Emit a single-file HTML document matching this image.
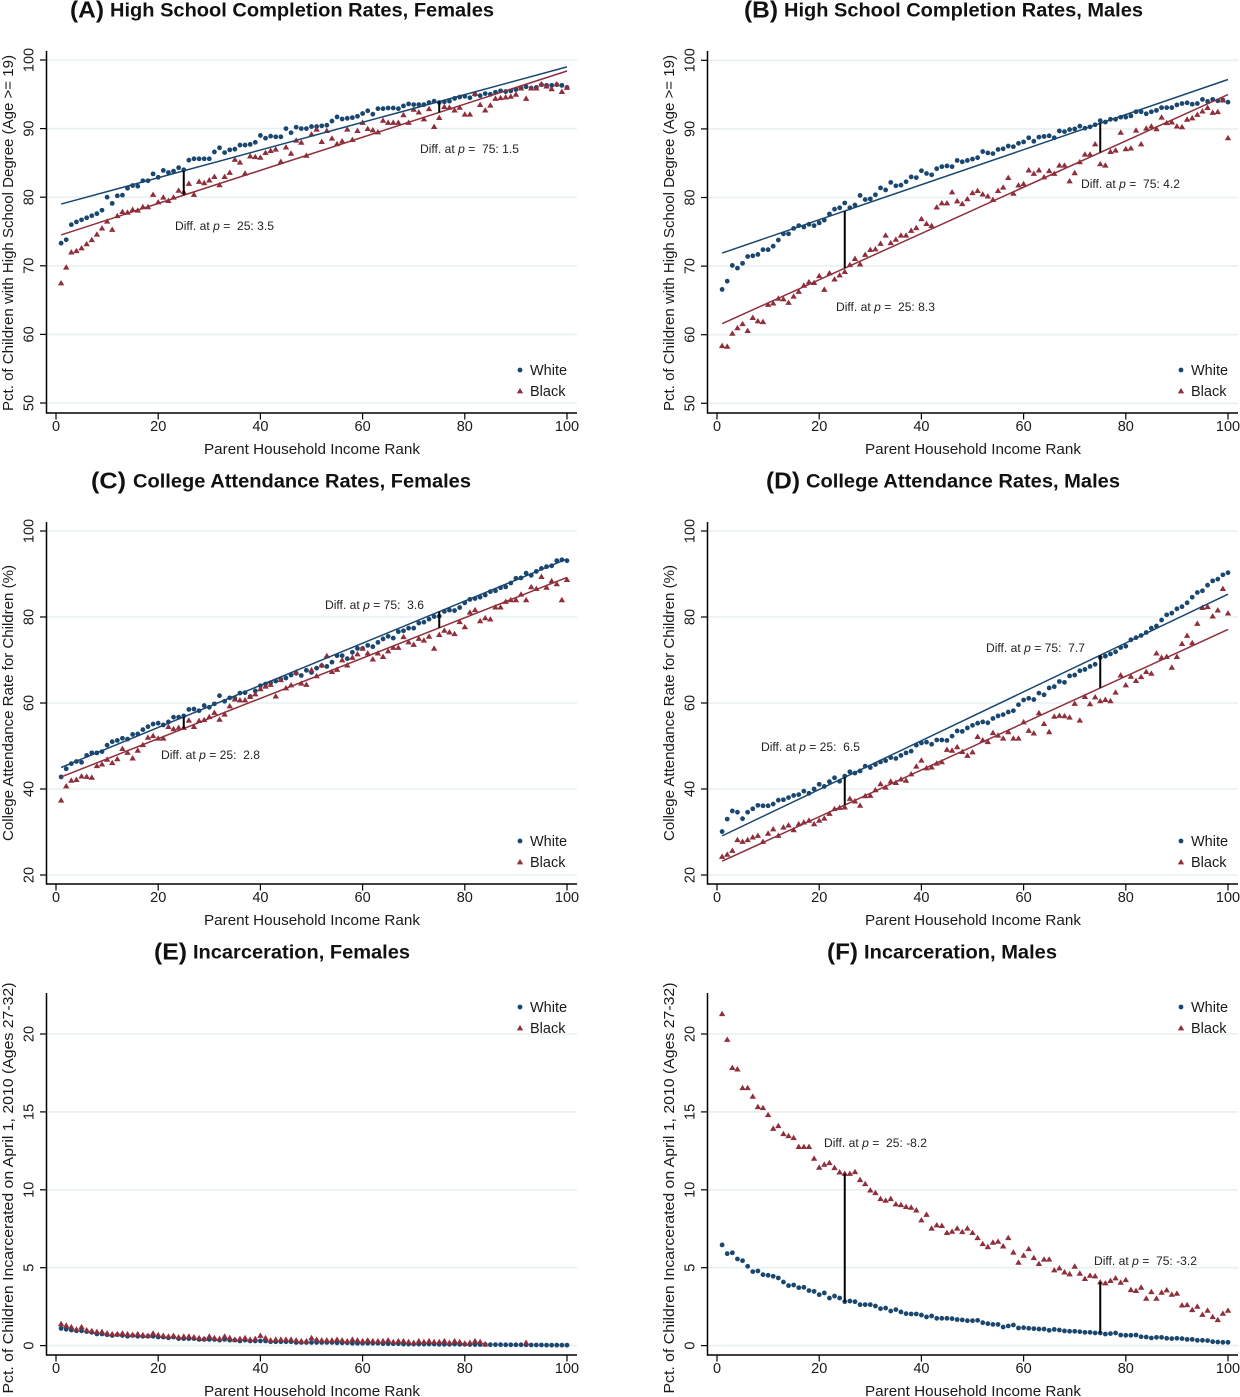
<!DOCTYPE html>
<html lang="en">
<head>
<meta charset="utf-8">
<title>Outcomes by Parent Income Rank</title>
<style>
html,body{margin:0;padding:0;background:#fff;width:1240px;height:1397px;overflow:hidden}
svg{display:block}
text{font-family:"Liberation Sans",Arial,sans-serif;fill:#1a1a1a}
.title{font-weight:bold;font-size:19.5px;fill:#111}
.title-tag{font-weight:bold;font-size:23px;fill:#111}
.axis-title{font-size:14.5px}
.tick{font-size:14.5px}
.legend{font-size:14.5px}
.note{font-size:12.1px;fill:#222}
.note tspan{font-style:italic}
</style>
</head>
<body>
<svg id="chart" xmlns="http://www.w3.org/2000/svg" width="1240" height="1397" viewBox="0 0 1240 1397">
  <rect width="1240" height="1397" fill="#ffffff"/>

  <g id="panel-a">
    <g class="marks"></g>
    <text class="title-tag" x="70" y="17.7" textLength="34" lengthAdjust="spacingAndGlyphs">(A)</text>
    <text class="title" x="110" y="16.7" textLength="384" lengthAdjust="spacingAndGlyphs">High School Completion Rates, Females</text>
    <text class="axis-title" transform="translate(13,233) rotate(-90)" text-anchor="middle" textLength="356" lengthAdjust="spacingAndGlyphs">Pct. of Children with High School Degree (Age &gt;= 19)</text>
    <text class="axis-title" x="312" y="454" text-anchor="middle" textLength="216" lengthAdjust="spacingAndGlyphs">Parent Household Income Rank</text>
    <text class="note" x="175" y="230">Diff. at <tspan>p</tspan> =&#160; 25: 3.5</text>
    <text class="note" x="420" y="153">Diff. at <tspan>p</tspan> =&#160; 75: 1.5</text>
    <text class="legend" x="530" y="375">White</text>
    <text class="legend" x="530" y="396">Black</text>
  </g>

  <g id="panel-b">
    <g class="marks"></g>
    <text class="title-tag" x="744" y="17.7" textLength="34" lengthAdjust="spacingAndGlyphs">(B)</text>
    <text class="title" x="784" y="16.7" textLength="359" lengthAdjust="spacingAndGlyphs">High School Completion Rates, Males</text>
    <text class="axis-title" transform="translate(674,233) rotate(-90)" text-anchor="middle" textLength="356" lengthAdjust="spacingAndGlyphs">Pct. of Children with High School Degree (Age &gt;= 19)</text>
    <text class="axis-title" x="973" y="454" text-anchor="middle" textLength="216" lengthAdjust="spacingAndGlyphs">Parent Household Income Rank</text>
    <text class="note" x="836" y="311">Diff. at <tspan>p</tspan> =&#160; 25: 8.3</text>
    <text class="note" x="1081" y="188">Diff. at <tspan>p</tspan> =&#160; 75: 4.2</text>
    <text class="legend" x="1191" y="375">White</text>
    <text class="legend" x="1191" y="396">Black</text>
  </g>

  <g id="panel-c">
    <g class="marks"></g>
    <text class="title-tag" x="91" y="488.7" textLength="35" lengthAdjust="spacingAndGlyphs">(C)</text>
    <text class="title" x="133" y="487.7" textLength="338" lengthAdjust="spacingAndGlyphs">College Attendance Rates, Females</text>
    <text class="axis-title" transform="translate(13,703) rotate(-90)" text-anchor="middle" textLength="276" lengthAdjust="spacingAndGlyphs">College Attendance Rate for Children (%)</text>
    <text class="axis-title" x="312" y="925" text-anchor="middle" textLength="216" lengthAdjust="spacingAndGlyphs">Parent Household Income Rank</text>
    <text class="note" x="161" y="759">Diff. at <tspan>p</tspan> = 25:&#160; 2.8</text>
    <text class="note" x="325" y="609">Diff. at <tspan>p</tspan> = 75:&#160; 3.6</text>
    <text class="legend" x="530" y="846">White</text>
    <text class="legend" x="530" y="867">Black</text>
  </g>

  <g id="panel-d">
    <g class="marks"></g>
    <text class="title-tag" x="766" y="488.7" textLength="34" lengthAdjust="spacingAndGlyphs">(D)</text>
    <text class="title" x="806" y="487.7" textLength="314" lengthAdjust="spacingAndGlyphs">College Attendance Rates, Males</text>
    <text class="axis-title" transform="translate(674,703) rotate(-90)" text-anchor="middle" textLength="276" lengthAdjust="spacingAndGlyphs">College Attendance Rate for Children (%)</text>
    <text class="axis-title" x="973" y="925" text-anchor="middle" textLength="216" lengthAdjust="spacingAndGlyphs">Parent Household Income Rank</text>
    <text class="note" x="761" y="751">Diff. at <tspan>p</tspan> = 25:&#160; 6.5</text>
    <text class="note" x="986" y="652">Diff. at <tspan>p</tspan> = 75:&#160; 7.7</text>
    <text class="legend" x="1191" y="846">White</text>
    <text class="legend" x="1191" y="867">Black</text>
  </g>

  <g id="panel-e">
    <g class="marks"></g>
    <text class="title-tag" x="154" y="959.7" textLength="33" lengthAdjust="spacingAndGlyphs">(E)</text>
    <text class="title" x="193" y="958.7" textLength="217" lengthAdjust="spacingAndGlyphs">Incarceration, Females</text>
    <text class="axis-title" transform="translate(13,1188) rotate(-90)" text-anchor="middle" textLength="411" lengthAdjust="spacingAndGlyphs">Pct. of Children Incarcerated on April 1, 2010 (Ages 27-32)</text>
    <text class="axis-title" x="312" y="1396" text-anchor="middle" textLength="216" lengthAdjust="spacingAndGlyphs">Parent Household Income Rank</text>
    <text class="legend" x="530" y="1012">White</text>
    <text class="legend" x="530" y="1033">Black</text>
  </g>

  <g id="panel-f">
    <g class="marks"></g>
    <text class="title-tag" x="827" y="959.7" textLength="31" lengthAdjust="spacingAndGlyphs">(F)</text>
    <text class="title" x="864" y="958.7" textLength="193" lengthAdjust="spacingAndGlyphs">Incarceration, Males</text>
    <text class="axis-title" transform="translate(674,1188) rotate(-90)" text-anchor="middle" textLength="411" lengthAdjust="spacingAndGlyphs">Pct. of Children Incarcerated on April 1, 2010 (Ages 27-32)</text>
    <text class="axis-title" x="973" y="1396" text-anchor="middle" textLength="216" lengthAdjust="spacingAndGlyphs">Parent Household Income Rank</text>
    <text class="note" x="824" y="1147">Diff. at <tspan>p</tspan> =&#160; 25: -8.2</text>
    <text class="note" x="1094" y="1265">Diff. at <tspan>p</tspan> =&#160; 75: -3.2</text>
    <text class="legend" x="1191" y="1012">White</text>
    <text class="legend" x="1191" y="1033">Black</text>
  </g>
</svg>

<script>
// Chart data: percentages per parent income rank 1..100
var xTicks = [0, 20, 40, 60, 80, 100];
var yTicksHighSchool = [50, 60, 70, 80, 90, 100];
var yTicksCollege = [20, 40, 60, 80, 100];
var yTicksIncarceration = [0, 5, 10, 15, 20];
var diffRanks = [25, 75];

var whiteA = [73.3,73.8,76,76.4,76.7,77,77.3,77.6,78.1,80,79.1,80.2,80.3,81.3,81.7,81.6,82.4,82.4,83.4,82.9,83.9,83.6,83.8,84.3,84,85.4,85.6,85.6,85.6,85.6,86.6,87.2,86.5,86.9,87,87.6,87.6,87.7,88,89,88.6,88.9,88.8,88.8,90,89.4,90.2,90,90,90.3,90.3,90.4,90.5,91.1,91.7,91.4,91.5,91.6,91.8,92.2,92.6,92.1,92.9,92.9,93,93,92.9,93.3,93.6,93.5,93.5,93.5,93.8,94,93.8,93.9,94,94.4,94.6,94.7,94.5,95,94.8,95.1,95,95.3,95.5,95.4,95.5,95.7,95.9,96.1,95.9,96,96.4,96.3,96.3,96.4,96.3,96];
var blackA = [67.5,69.8,72,72.2,72.6,73.2,73.8,74.6,75.5,76.5,75.3,77.3,77.9,77.8,78.2,78.1,78.6,78.6,80.4,79.3,80,79.5,80,81,80.8,82,80.4,82.3,82.1,82.5,83,81.8,83,83.6,85.5,85.1,83.5,86,85.9,85.8,86.5,86.8,87,85.2,87.3,86.4,88.3,88,86.1,89.2,89.9,88.1,89.7,88.6,87.8,88.2,89.9,88.4,89.7,90.9,90,89.8,89.5,91.2,90.9,90.9,90.9,92,90.9,92.8,92.4,91.4,92.9,90.3,91.6,93.2,93.1,92.7,93.1,92.1,92.1,95.1,93.5,92.7,93.4,94.4,94.5,94.6,94.7,95,95.9,94.4,95.9,95.9,96.5,96.2,95.8,96.5,95.4,96];
var fitWhiteA = [79, 99];
var fitBlackA = [74.5, 98.4];

var whiteB = [66.6,67.8,70.1,69.7,70.4,71.4,71.5,71.7,72.4,72.4,72.9,73.8,74.7,74.7,75.5,75.9,75.7,76.1,75.9,76.3,76.7,77.6,78.3,78.5,79.2,78.5,78.9,80.3,79.7,79.8,80.4,81.4,81.1,82.2,81.7,81.8,82.3,83,82.9,83.9,83.5,83.3,84.2,84.5,84.6,84.5,85.4,85.2,85.4,85.6,85.8,86.7,86.5,86.4,87,87.1,87.5,87.4,87.9,88.1,88.7,88.2,88.8,88.9,89,88.7,89.7,89.6,89.9,90,90.4,90.1,90.3,90.6,91.2,91,91.4,91.4,91.7,91.7,91.9,92.5,92.5,92.2,92.5,92.7,93.1,93.1,93.1,93.5,93.7,93.8,93.6,93.7,94.3,94,94.3,94.1,94.2,93.9];
var blackB = [58.4,58.3,60.2,61,61.6,60.6,62.5,62,61.9,64.4,64.6,65.3,65.2,64.7,65.6,66.3,67.2,67.7,67.6,68.6,66.6,69,68.1,68.7,69.2,70.2,71.1,70.3,71.7,72.4,72.5,73.3,74.5,73.4,73.9,74.5,74.5,75.2,75.6,76.9,76.2,75.9,78.6,79.2,79.2,80.8,79.5,79.1,79.8,80.7,81,80.5,80.2,79.7,81,81.5,82.9,80.6,81.8,82,84,83.5,84,83,83.9,83.5,84.7,84.7,82.4,83.6,85.2,86.3,86.3,87.8,84.9,84.7,86.7,86.9,89.5,87.1,87.2,89.8,87.8,90.1,90.4,90,91.7,90.9,91,90.4,90.3,91.4,91.6,92.1,92.6,93.1,92.4,92.5,94.2,88.7];
var fitWhiteB = [71.9, 97.2];
var fitBlackB = [61.6, 95];

var whiteC = [42.8,44.7,45.9,46.4,46.2,47.8,48.4,48.4,48.7,50.2,51,51.3,51.8,51.6,52.7,52.8,53.8,54.5,55.1,55.3,54.9,55.6,56.7,56.7,57,58.5,58.6,58.2,59.4,59,59.8,61.7,60.4,61.2,61.1,62.3,62.4,61.5,62.8,64,64.4,64.7,65.1,65.5,65.8,66.5,66.9,66.4,67.6,67.1,68.1,68.7,68.5,69.5,71,71,70.3,71.8,72.7,72.7,73.4,73.1,74.1,74.9,75.5,75.1,76.6,76.8,77.4,77.4,78.6,78.8,79.5,80.1,80.2,81.3,81.6,81.5,82.2,83.3,84.1,84.3,84.6,85.1,85.9,86.1,86.8,87,87.9,89,89.1,90.2,89.7,90.6,91.3,91.7,91.9,93.1,93.3,93.1];
var blackC = [37.4,40.7,42,42.2,43,42.9,42.7,45.4,45.8,46.9,46.1,47,49.4,48.5,47.2,49,50.3,52,52.4,51.8,51.8,54.5,54,54.3,54.3,56,54.5,55.9,56.1,56.8,57.8,56.2,57.4,59.3,60.9,60.7,60.7,61.5,62.1,63.3,63.9,64.3,61.6,65.4,63.5,64.2,67.2,64.6,64.3,67.7,66.3,68.8,71,67.3,67.8,70,68.8,70.6,71.4,72.7,71.6,70.2,71.6,70.8,72.1,72.9,72.9,75.4,74.2,73.6,75,74.6,75.5,72.7,75.9,76.9,76.5,76.1,78.9,77.7,81.1,81.7,79.1,79.8,79.5,82.3,82.3,83.6,84,84,85.3,84,87,86.6,89.4,86.9,88.4,87.7,84,88.7];
var fitWhiteC = [45, 93.5];
var fitBlackC = [42.8, 89.2];

var whiteD = [30.1,33,34.9,34.6,33.1,34.6,35.4,36.2,36.1,36.1,36.5,37.4,37.5,38,38.5,38.7,39.5,39,40,41.1,40.6,41.7,42.6,41.8,43,44,43.7,44.2,45.3,45,45.7,46.3,46.6,47.3,47.1,47.8,48.4,48.8,50.2,50.7,50.9,50.4,51.4,51.4,51.3,52.3,53.5,53.4,54.2,54.8,55.3,55.6,55.4,56.4,57,57.3,57.9,58.2,59.6,60.7,61.1,60.8,62.3,61.9,63.5,63.8,65,64.8,66.3,66.5,67.5,67.8,68.5,69,70.6,70.9,71.4,71.9,72.9,73.2,74.7,75.2,75.7,76.4,77.4,77.9,79.3,80.5,80.9,81.9,82.4,83.3,84.6,85.7,86.1,87.4,88.4,88.8,89.8,90.3];
var blackD = [24.3,24.8,25.7,28.2,27.8,28.2,28.8,29.2,27.8,29.7,30.7,29.2,31.1,31.6,30.5,31.9,32.3,32.7,31.9,32.7,33.2,34.3,35.4,35.7,35.8,37.8,37.2,36.2,38.4,38.5,39.8,41.2,40.4,41.8,41.5,42.3,42,43.5,45.3,46.7,44.9,45.1,46,46.3,49.2,49,49.8,48.7,47.8,48.6,52.2,51.4,51,53.1,52.5,51.8,53.3,51.8,51.8,55.6,53.6,53,57.7,55.2,53.3,56.9,57.1,57,56.7,59.9,56,61.5,59.8,61.4,60.5,60.8,60.5,62.5,66.5,64.2,66.2,65.2,66.1,67.3,66.9,71.6,70.6,70.8,68.3,70.8,73.8,75.7,74,78.5,82.2,82.4,80.2,81.6,86.6,80.9];
var fitWhiteD = [29.1, 85.3];
var fitBlackD = [23.2, 77.1];

var whiteE = [1.1,1.05,1,0.95,0.95,0.9,0.85,0.75,0.75,0.7,0.65,0.7,0.65,0.6,0.65,0.6,0.6,0.6,0.6,0.55,0.55,0.5,0.55,0.45,0.45,0.45,0.45,0.4,0.4,0.4,0.4,0.35,0.4,0.35,0.35,0.3,0.35,0.3,0.3,0.3,0.3,0.25,0.25,0.25,0.25,0.25,0.2,0.2,0.2,0.2,0.2,0.2,0.2,0.2,0.18,0.18,0.18,0.15,0.15,0.15,0.15,0.15,0.15,0.12,0.12,0.12,0.12,0.1,0.1,0.1,0.1,0.1,0.1,0.1,0.08,0.08,0.08,0.1,0.08,0.08,0.07,0.07,0.07,0.07,0.06,0.06,0.06,0.05,0.05,0.05,0.05,0.05,0.04,0.04,0.04,0.03,0.03,0.03,0.03,0.03];
var blackE = [1.4,1.3,1.2,1.05,1.2,1,0.95,0.9,0.9,0.8,0.75,0.75,0.8,0.75,0.7,0.75,0.7,0.65,0.8,0.7,0.65,0.6,0.65,0.55,0.6,0.6,0.55,0.5,0.45,0.6,0.5,0.45,0.6,0.5,0.4,0.45,0.5,0.4,0.45,0.65,0.5,0.35,0.4,0.4,0.4,0.4,0.35,0.3,0.3,0.5,0.4,0.35,0.35,0.35,0.4,0.35,0.3,0.4,0.35,0.3,0.35,0.3,0.3,0.3,0.35,0.25,0.3,0.3,0.25,0.2,0.3,0.25,0.3,0.25,0.25,0.3,0.2,0.3,0.25,0.15,0.2,0.3,0.25,0.1,null,null,null,null,null,null,null,0.2,null,null,null,null,null,null,null,null];

var whiteF = [6.46,5.9,5.96,5.56,5.45,5.09,4.75,4.79,4.55,4.51,4.45,4.34,4.08,3.85,3.89,3.72,3.74,3.53,3.48,3.27,3.38,3.05,3.18,3.05,2.82,2.86,2.82,2.63,2.63,2.63,2.54,2.37,2.41,2.22,2.31,2.16,2.05,2.03,2.03,1.96,1.84,1.9,1.75,1.75,1.75,1.73,1.67,1.65,1.6,1.6,1.62,1.47,1.41,1.36,1.36,1.19,1.26,1.32,1.13,1.15,1.11,1.09,1.06,1.06,0.98,1.04,1,0.94,0.92,0.92,0.89,0.85,0.85,0.81,0.81,0.74,0.77,0.81,0.68,0.66,0.66,0.68,0.57,0.55,0.49,0.53,0.53,0.47,0.45,0.47,0.45,0.4,0.4,0.34,0.34,0.32,0.25,0.23,0.21,0.21];
var blackF = [21.3,19.65,17.84,17.75,16.55,16.55,16,15.33,15.27,14.82,13.94,14.11,13.6,13.47,13.34,12.77,12.77,12.77,12.02,11.44,11.63,11.74,11.42,11.14,11.05,11.05,11.16,10.65,10.39,9.98,9.81,9.43,9.32,9.43,9.09,9.04,8.92,8.87,8.7,8.06,8.42,7.53,7.74,7.7,7.25,7.33,7.53,7.31,7.53,7.25,6.92,6.54,6.35,6.63,6.69,6.39,6.92,5.99,5.34,5.79,6.22,5.64,5.26,5.54,5.54,4.85,4.98,4.72,4.6,5.09,4.64,4.3,4.51,4.47,4.08,4.02,4.17,4.34,4.06,4.23,3.59,3.53,3.74,3.03,3.46,3.03,3.42,3.57,3.29,3.35,2.6,2.62,2.3,2.52,2,2.26,1.85,1.66,2.07,2.26];

var NAVY = '#1a476f';
var MAROON = '#8f2f3c';
var GRID = '#e9f0f1';
var SVGNS = 'http://www.w3.org/2000/svg';
var DOT_R = 2.4;

function make(tag, attrs, parent) {
  var el = document.createElementNS(SVGNS, tag);
  for (var k in attrs) el.setAttribute(k, attrs[k]);
  parent.appendChild(el);
  return el;
}

function trianglePoints(x, y) {
  return (x - 3.2) + ',' + (y + 2.4) + ' ' + (x + 3.2) + ',' + (y + 2.4) + ' ' + x + ',' + (y - 3);
}

function drawPanel(p) {
  var g = document.querySelector('#panel-' + p.id + ' .marks');
  var xPos = function (rank) { return p.x0 + 5.11 * rank; };
  var yPos = function (v) { return p.yRef + (p.vRef - v) * p.k; };
  var left = p.x0 - 9.5, right = p.x0 + 521, top = p.yTop, bottom = p.yTop + 362;

  // gridlines
  p.yTicks.forEach(function (t) {
    var line = make('line', {x1: left, x2: right, y1: yPos(t), y2: yPos(t), stroke: GRID, 'stroke-width': 1.6}, g);
    
    
  });

  // scatter: white dots
  p.white.forEach(function (v, i) {
    if (v === null) return;
    var c = make('circle', {cx: xPos(i + 1), cy: yPos(v), r: DOT_R, fill: NAVY}, g);
    
    
  });

  // scatter: black triangles
  p.black.forEach(function (v, i) {
    if (v === null) return;
    var t = make('polygon', {points: trianglePoints(xPos(i + 1), yPos(v)), fill: MAROON}, g);
    
    
  });

  // linear fits
  var fitAt = function (fit, rank) { return fit[0] + (fit[1] - fit[0]) * (rank - 1) / 99; };
  if (p.fitWhite) {
    var lw = make('line', {x1: xPos(1), x2: xPos(100), y1: yPos(p.fitWhite[0]), y2: yPos(p.fitWhite[1]), stroke: NAVY, 'stroke-width': 1.5}, g);
    
    
    var lb = make('line', {x1: xPos(1), x2: xPos(100), y1: yPos(p.fitBlack[0]), y2: yPos(p.fitBlack[1]), stroke: MAROON, 'stroke-width': 1.5}, g);
    
    
  }

  // difference bars
  if (p.showDiff) {
    diffRanks.forEach(function (rank) {
      var a = p.fitWhite ? fitAt(p.fitWhite, rank) : p.white[rank - 1];
      var b = p.fitBlack ? fitAt(p.fitBlack, rank) : p.black[rank - 1];
      var bar = make('line', {x1: xPos(rank), x2: xPos(rank), y1: yPos(a), y2: yPos(b), stroke: '#000', 'stroke-width': 2}, g);
      
      
    });
  }

  // axes
  var ya = make('line', {x1: left, x2: left, y1: top, y2: bottom + 0.75, stroke: '#000', 'stroke-width': 1.5}, g);
  
  
  var xa = make('line', {x1: left, x2: right, y1: bottom, y2: bottom, stroke: '#000', 'stroke-width': 1.5}, g);
  
  

  xTicks.forEach(function (t) {
    var tk = make('line', {x1: xPos(t), x2: xPos(t), y1: bottom, y2: bottom + 6.5, stroke: '#000', 'stroke-width': 1.2}, g);
    
    
    var tx = make('text', {x: xPos(t), y: bottom + 18, 'text-anchor': 'middle', 'class': 'tick'}, g);
    
    
    tx.textContent = t;
  });

  p.yTicks.forEach(function (t) {
    var tk = make('line', {x1: left - 6.5, x2: left, y1: yPos(t), y2: yPos(t), stroke: '#000', 'stroke-width': 1.2}, g);
    
    
    var lx = left - 13;
    var tx = make('text', {transform: 'translate(' + lx + ',' + yPos(t) + ') rotate(-90)', 'text-anchor': 'middle', 'class': 'tick'}, g);
    
    
    tx.textContent = t;
  });

  // legend markers
  var lgx = p.x0 + p.legendDx;
  var m1 = make('circle', {cx: lgx, cy: p.legendY, r: DOT_R, fill: NAVY}, g);
  
  
  var m2 = make('polygon', {points: trianglePoints(lgx, p.legendY + 21), fill: MAROON}, g);
  
  
}

drawPanel({id: 'a', x0: 56, vRef: 100, yRef: 60, k: 6.86, yTop: 51, yTicks: yTicksHighSchool, white: whiteA, black: blackA, fitWhite: fitWhiteA, fitBlack: fitBlackA, showDiff: true, legendDx: 464, legendY: 370});
drawPanel({id: 'b', x0: 717, vRef: 100, yRef: 60.3, k: 6.86, yTop: 51, yTicks: yTicksHighSchool, white: whiteB, black: blackB, fitWhite: fitWhiteB, fitBlack: fitBlackB, showDiff: true, legendDx: 464, legendY: 370});
drawPanel({id: 'c', x0: 56, vRef: 100, yRef: 531, k: 4.3, yTop: 522, yTicks: yTicksCollege, white: whiteC, black: blackC, fitWhite: fitWhiteC, fitBlack: fitBlackC, showDiff: true, legendDx: 464, legendY: 841});
drawPanel({id: 'd', x0: 717, vRef: 100, yRef: 531, k: 4.3, yTop: 522, yTicks: yTicksCollege, white: whiteD, black: blackD, fitWhite: fitWhiteD, fitBlack: fitBlackD, showDiff: true, legendDx: 464, legendY: 841});
drawPanel({id: 'e', x0: 56, vRef: 0, yRef: 1345.6, k: 15.58, yTop: 993, yTicks: yTicksIncarceration, white: whiteE, black: blackE, fitWhite: null, fitBlack: null, showDiff: false, legendDx: 464, legendY: 1007});
drawPanel({id: 'f', x0: 717, vRef: 0, yRef: 1345.6, k: 15.58, yTop: 993, yTicks: yTicksIncarceration, white: whiteF, black: blackF, fitWhite: null, fitBlack: null, showDiff: true, legendDx: 464, legendY: 1007});
</script>
</body>
</html>
